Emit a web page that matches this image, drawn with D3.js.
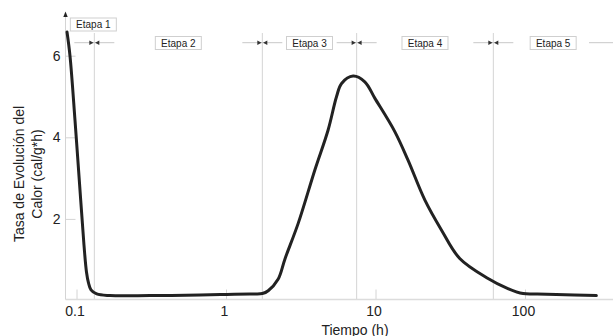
<!DOCTYPE html>
<html>
<head>
<meta charset="utf-8">
<script src="https://cdn.jsdelivr.net/npm/d3@7"></script>
<style>
  body { margin: 0; background: #fff; }
  text { font-family: "Liberation Sans", Arial, sans-serif; }
</style>
</head>
<body>
<div id="chart"></div>
<script>
// horas vs tasa (cal/g*h)
var tiempo = [0.0864, 0.0905, 0.0977, 0.1055, 0.1122, 0.1166, 0.1203, 0.125, 0.1365, 0.1675,
  0.31, 0.67, 1.01, 1.445, 1.56, 1.75, 1.915, 2.23, 2.48, 3.04, 3.93, 4.82, 5.49, 5.93, 7.08,
  8.48, 9.89, 13.46, 16.5, 21.4, 27.6, 36.6, 56.6, 75, 97, 120, 162, 300];
var tasa = [6.58, 5.99, 4.42, 2.71, 1.36, 0.70, 0.43, 0.26, 0.16, 0.12,
  0.12, 0.135, 0.15, 0.16, 0.16, 0.17, 0.24, 0.52, 1.02, 1.89, 3.20, 4.18, 5.0, 5.32, 5.50,
  5.36, 4.96, 4.14, 3.44, 2.46, 1.73, 1.03, 0.54, 0.31, 0.17, 0.16, 0.15, 0.12];

var limites = [0.1316, 1.75, 7.48, 61.4];   // cambios de etapa (h)
var etapas = ["Etapa 1", "Etapa 2", "Etapa 3", "Etapa 4", "Etapa 5"];
var xTicks = [0.1, 1, 10, 100];
var yTicks = [2, 4, 6];

var width = 613, height = 336;

var svg = d3.select("#chart").append("svg")
  .attr("width", width)
  .attr("height", height);

var x = d3.scaleLog().domain([0.1, 100]).range([76.5, 525]);
var y = d3.scaleLinear().domain([0, 6]).range([300.5, 55.7]);

var x0 = 65.5, yAxisPos = 299.5, yDim = 42.7;

// lineas de etapa
svg.selectAll(".limite")
  .data(limites)
  .enter().append("line")
  .attr("class", "limite")
  .attr("x1", function(d) { return x(d); })
  .attr("x2", function(d) { return x(d); })
  .attr("y1", 33)
  .attr("y2", yAxisPos)
  .attr("stroke", "#d4d4d4")
  .attr("stroke-width", 1);

// lineas de cota con flechas
var cota = svg.append("g");
limites.forEach(function(d) {
  var bx = x(d);
  cota.append("line")
    .attr("x1", bx - 20).attr("x2", bx + 20)
    .attr("y1", yDim).attr("y2", yDim)
    .attr("stroke", "#c8c8c8");
  cota.append("path")
    .attr("d", "M" + (bx - 5) + "," + (yDim - 2.2) + "L" + (bx - 0.8) + "," + yDim + "L" + (bx - 5) + "," + (yDim + 2.2) + "Z")
    .attr("fill", "#333");
  cota.append("path")
    .attr("d", "M" + (bx + 5) + "," + (yDim - 2.2) + "L" + (bx + 0.8) + "," + yDim + "L" + (bx + 5) + "," + (yDim + 2.2) + "Z")
    .attr("fill", "#333");
});
cota.append("line")
  .attr("x1", 589).attr("x2", width)
  .attr("y1", yDim).attr("y2", yDim)
  .attr("stroke", "#c8c8c8");

// etiquetas de etapa
var bordes = [x.invert(x0)].concat(limites).concat([x.invert(width)]);
etapas.forEach(function(name, i) {
  var cx, cy;
  if (i == 0) {
    cx = x(limites[0]) - 1; cy = 24.5;
  } else {
    cx = (x(bordes[i]) + x(bordes[i + 1])) / 2; cy = yDim + 0.3;
  }
  var g = svg.append("g").attr("transform", "translate(" + cx + "," + cy + ")");
  var bw = 46, bh = 13;
  g.append("rect")
    .attr("x", -bw / 2).attr("y", -bh / 2)
    .attr("width", bw).attr("height", bh)
    .attr("fill", "#fff")
    .attr("stroke", "#cfcfcf");
  g.append("text")
    .attr("text-anchor", "middle")
    .attr("dy", "0.35em")
    .attr("font-size", 10)
    .attr("fill", "#222")
    .text(name);
});

// eje x
var xAxis = svg.append("g")
  .attr("transform", "translate(0," + yAxisPos + ")")
  .call(d3.axisBottom(x).tickValues(xTicks).tickSizeInner(-10).tickSizeOuter(0).tickPadding(7)
    .tickFormat(function(d) { return d; }));
xAxis.select(".domain").remove();
xAxis.selectAll(".tick line").attr("stroke", "#d4d4d4");
xAxis.selectAll(".tick text").attr("font-size", 14).attr("fill", "#222").attr("dx", -2);
svg.append("line")
  .attr("x1", x0).attr("x2", width)
  .attr("y1", yAxisPos).attr("y2", yAxisPos)
  .attr("stroke", "#dcdcdc")
  .attr("stroke-width", 1.5);

// eje y
var yAxis = svg.append("g")
  .attr("transform", "translate(" + x0 + ",0)")
  .call(d3.axisLeft(y).tickValues(yTicks).tickSizeInner(-10).tickSizeOuter(0).tickPadding(5)
    .tickFormat(d3.format("d")));
yAxis.select(".domain").remove();
yAxis.selectAll(".tick line").attr("stroke", "#d4d4d4");
yAxis.selectAll(".tick text").attr("font-size", 14).attr("fill", "#222");
svg.append("line")
  .attr("x1", x0).attr("x2", x0)
  .attr("y1", 15).attr("y2", yAxisPos)
  .attr("stroke", "#d4d4d4");
svg.append("path")
  .attr("d", "M" + (x0 - 2.2) + ",17L" + x0 + ",11.5L" + (x0 + 2.2) + ",17Z")
  .attr("fill", "#222");

// curva
var datos = tiempo.map(function(t, i) { return {t: t, v: tasa[i]}; });
var linea = d3.line()
  .x(function(d) { return x(d.t); })
  .y(function(d) { return y(d.v); })
  .curve(d3.curveCatmullRom.alpha(0.5));
svg.append("path")
  .datum(datos)
  .attr("d", linea)
  .attr("fill", "none")
  .attr("stroke", "#222")
  .attr("stroke-width", 3)
  .attr("stroke-linejoin", "round")
  .attr("stroke-linecap", "round");

// titulos
svg.append("text")
  .attr("x", 355).attr("y", 334.5)
  .attr("text-anchor", "middle")
  .attr("font-size", 14)
  .attr("fill", "#222")
  .text("Tiempo (h)");

var ylab = svg.append("text")
  .attr("transform", "translate(0,174) rotate(-90)")
  .attr("text-anchor", "middle")
  .attr("font-size", 14)
  .attr("fill", "#222");
ylab.append("tspan").attr("x", 0).attr("y", 24).text("Tasa de Evolución del");
ylab.append("tspan").attr("x", 0).attr("y", 42).text("Calor (cal/g*h)");
</script>
</body>
</html>
